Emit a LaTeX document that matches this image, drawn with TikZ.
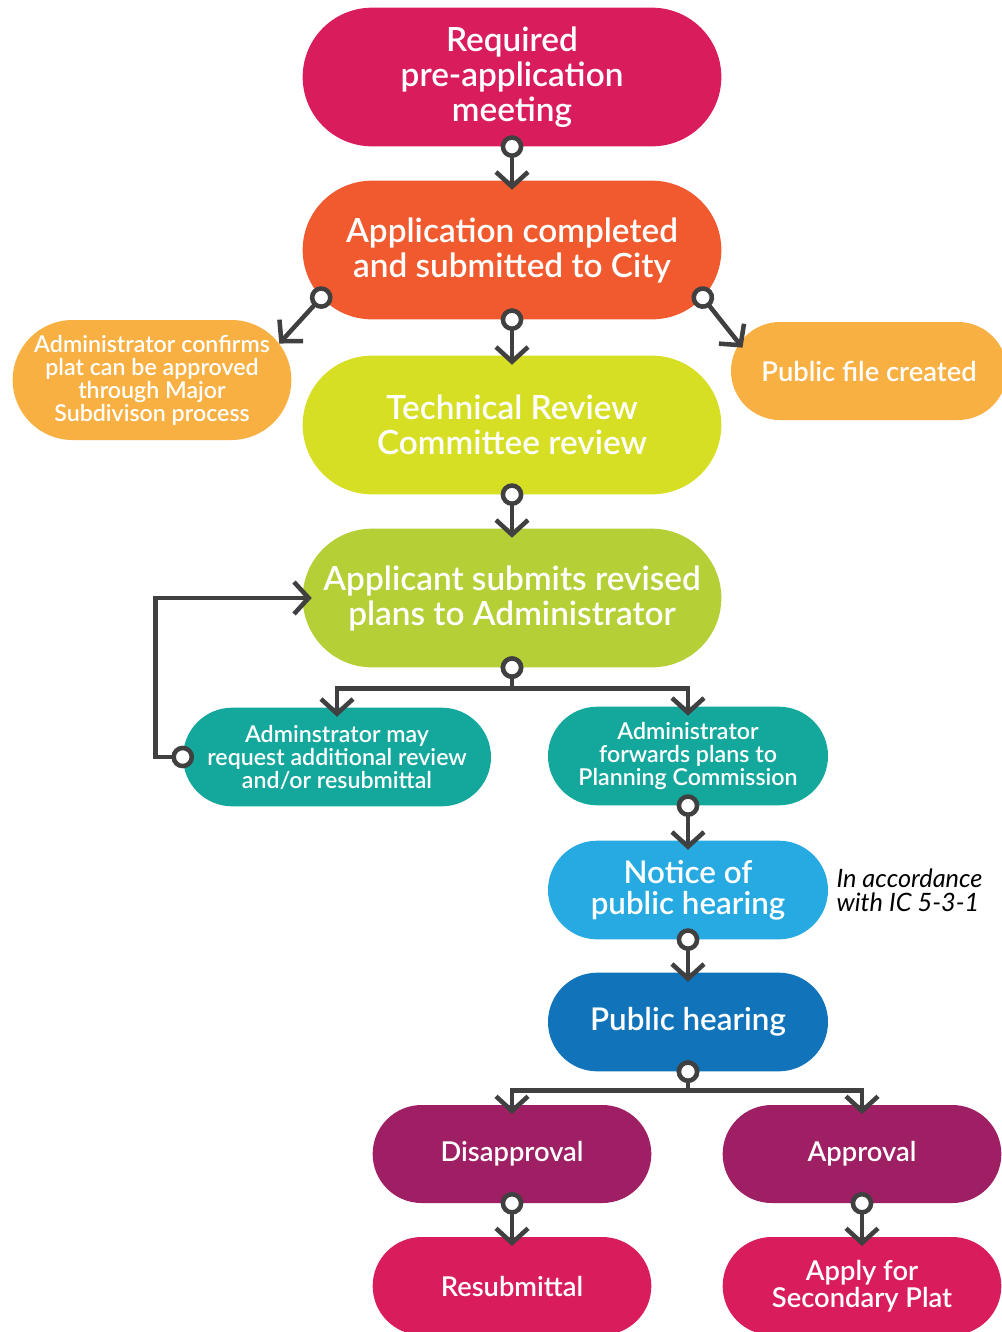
\documentclass[tikz,border=0pt]{standalone}
\usepackage{fontspec}
\setmainfont{Lato}
\newfontfamily\semi{Lato Semibold}
\usetikzlibrary{arrows.meta,shapes.misc,positioning}
\definecolor{crimson}{HTML}{D91C5C}
\definecolor{redorange}{HTML}{F15A2F}
\definecolor{amber}{HTML}{F9B043}
\definecolor{lime}{HTML}{D6DF23}
\definecolor{leaf}{HTML}{B5CF37}
\definecolor{teal}{HTML}{14A89D}
\definecolor{sky}{HTML}{27AAE1}
\definecolor{deepblue}{HTML}{1174BB}
\definecolor{plum}{HTML}{9E1F63}
\definecolor{linegray}{HTML}{404040}
\tikzset{
  box/.style={rounded rectangle, fill=#1, text=white, align=center, inner sep=0pt},
  bigbox/.style={minimum width=314pt, minimum height=104pt, font=\semi\fontsize{25}{26.25}\selectfont},
  midbox/.style={minimum width=210pt, minimum height=74pt, font=\semi\fontsize{23.5}{23.25}\selectfont},
  lowbox/.style={minimum width=209pt, minimum height=73.5pt, font=\semi\fontsize{20.5}{20}\selectfont},
  smallbox/.style={minimum height=74pt, font=\semi\fontsize{17.4}{17.25}\selectfont},
  note/.style={align=left, inner sep=0pt, font=\itshape\fontsize{19}{18}\selectfont},
  flow/.style={draw=linegray, line width=3.4pt,
    {Circle[fill=white,length=17pt,width=17pt]}-{Straight Barb[sharp,length=11pt,width=24pt]},
    shorten <=-8.5pt, shorten >=-7pt},
}
\begin{document}
\begin{tikzpicture}[x=0.75pt,y=-0.75pt]
	\useasboundingbox (0,0) rectangle (1002,1332);
	% Boxes
	\node[box=crimson,bigbox] (meet) at (512,77) {Required\\pre-application\\meeting};
	\node[box=redorange,bigbox] (app) at (512,250) {Application completed\\and submitted to City};
	\node[box=amber,smallbox,minimum width=209pt,minimum height=90pt] (conf) at (152,380) {Administrator confirms\\plat can be approved\\through Major\\Subdivison process};
	\node[box=amber,lowbox,minimum width=207pt] (pub) at (869,371) {Public file created};
	\node[box=lime,bigbox] (trc) at (512,425) {Technical Review\\Committee review};
	\node[box=leaf,bigbox] (appl) at (512,598) {Applicant submits revised\\plans to Administrator};
	\node[box=teal,smallbox,minimum width=231pt] (may) at (337,757) {Adminstrator may\\request additional review\\and/or resubmittal};
	\node[box=teal,smallbox,minimum width=210pt] (fwd) at (688,756) {Administrator\\forwards plans to\\Planning Commission};
	\node[box=sky,midbox] (notice) at (688,890) {Notice of\\public hearing};
	\node[box=deepblue,midbox] (hear) at (688,1022) {Public hearing};
	\node[box=plum,lowbox] (dis) at (512,1154) {Disapproval};
	\node[box=plum,lowbox] (appr) at (862,1154) {Approval};
	\node[box=crimson,lowbox] (resub) at (512,1286) {Resubmittal};
	\node[box=crimson,lowbox] (sec) at (862,1286) {Apply for\\Secondary Plat};
	% side note
	\node[note,right=6pt of notice] (ic) {In accordance\\with IC 5-3-1};
	% Arrows
	\draw[flow] (meet.south) -- (app.north);
	\draw[flow] (app.south) -- (trc.north);
	\draw[flow,shorten >=0pt] (app.194) -- (conf.16);
	\draw[flow,shorten >=-4pt] (app.-14) -- (pub.168);
	\draw[flow] (trc.south) -- (appl.north);
	\draw[flow] (appl.south) -- ++(0,21) -| (may.north);
	\draw[flow] (appl.south) -- ++(0,21) -| (fwd.north);
	\draw[flow] (may.west) -- ++(-27,0) |- (appl.west);
	\draw[flow] (fwd.south) -- (notice.north);
	\draw[flow] (notice.south) -- (hear.north);
	\draw[flow] (hear.south) -- ++(0,19) -| (dis.north);
	\draw[flow] (hear.south) -- ++(0,19) -| (appr.north);
	\draw[flow] (dis.south) -- (resub.north);
	\draw[flow] (appr.south) -- (sec.north);
\end{tikzpicture}
\end{document}
